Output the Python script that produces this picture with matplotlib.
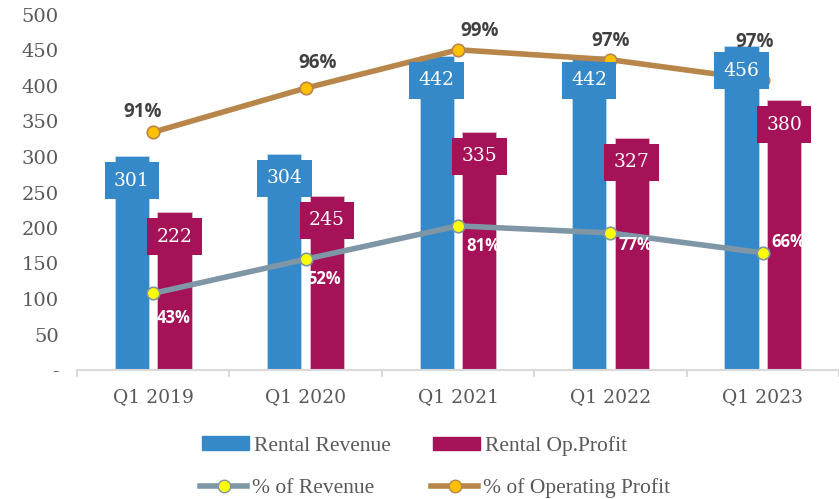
import matplotlib
matplotlib.use("Agg")
import matplotlib.pyplot as plt
from matplotlib.patches import Patch
from matplotlib.lines import Line2D
import numpy as np

categories = ["Q1 2019", "Q1 2020", "Q1 2021", "Q1 2022", "Q1 2023"]
rental_revenue = [301, 304, 442, 442, 456]
rental_op_profit = [222, 245, 335, 327, 380]
# line series as drawn on the chart (left-axis scale) and their labels
pct_revenue_pos = [108, 156, 203, 193, 165]
pct_revenue_lbl = ["43%", "52%", "81%", "77%", "66%"]
pct_opprofit_pos = [335, 397, 451, 437, 408]
pct_opprofit_lbl = ["91%", "96%", "99%", "97%", "97%"]
yticks = [0, 50, 100, 150, 200, 250, 300, 350, 400, 450, 500]
yticklabels = ["-", "50", "100", "150", "200", "250", "300", "350", "400", "450", "500"]

# label placement offsets (pixels, dx right, dy down)
op_lbl_off = [(-11, -20), (12, -25), (22, -19), (0, -19), (-8, -38)]
rev_lbl_off = [(20, 25), (18, 20), (25, 20), (25, 12), (26, -11)]

BLUE = "#3689C9"
RED = "#A61257"
GREY_LINE = "#7F96A6"
GOLD_LINE = "#B8864A"
TXT = "#595959"

W, H = 839, 499
fig = plt.figure(figsize=(W / 100, H / 100), dpi=100)
ax = fig.add_axes([77 / W, (H - 370) / H, (W - 77) / W, (370 - 15) / H])

x = np.arange(len(categories))
bw = 0.225
off = 0.14
ax.bar(x - off, rental_revenue, bw, color=BLUE, edgecolor="#BDD7EE", linewidth=0.6, zorder=2)
ax.bar(x + off, rental_op_profit, bw, color=RED, edgecolor="#E6B8CC", linewidth=0.6, zorder=2)

ax.plot(x, pct_revenue_pos, color=GREY_LINE, lw=4, marker="o", ms=9,
        mfc="#FFFF00", mec=GREY_LINE, mew=1.2, zorder=3)
ax.plot(x, pct_opprofit_pos, color=GOLD_LINE, lw=4, marker="o", ms=9,
        mfc="#FFC000", mec=GOLD_LINE, mew=1.2, zorder=3)

serif = ["DejaVu Serif"]
for xi, v in zip(x - off, rental_revenue):
    ax.annotate(str(v), (xi, v), xytext=(0, -17.5), textcoords="offset points",
                ha="center", va="center", color="white", fontsize=13.5, family=serif,
                bbox=dict(boxstyle="square,pad=0.5", fc=BLUE, ec="none"), zorder=5)
for xi, v in zip(x + off, rental_op_profit):
    ax.annotate(str(v), (xi, v), xytext=(0, -17.5), textcoords="offset points",
                ha="center", va="center", color="white", fontsize=13.5, family=serif,
                bbox=dict(boxstyle="square,pad=0.5", fc=RED, ec="none"), zorder=5)

pt = 0.72
for xi, v, l, (dx, dy) in zip(x, pct_opprofit_pos, pct_opprofit_lbl, op_lbl_off):
    ax.annotate(l, (xi, v), xytext=(dx * pt, -dy * pt), textcoords="offset points",
                ha="center", va="center", color="#404040", fontsize=13.5,
                family="Open Sans", fontweight="bold", zorder=6)
for xi, v, l, (dx, dy) in zip(x, pct_revenue_pos, pct_revenue_lbl, rev_lbl_off):
    ax.annotate(l, (xi, v), xytext=(dx * pt, -dy * pt), textcoords="offset points",
                ha="center", va="center", color="white", fontsize=12,
                family="Open Sans", fontweight="bold", zorder=6)

ax.set_xlim(-0.5, 4.448)
ax.set_ylim(0, 500)
ax.set_yticks(yticks)
ax.set_yticklabels(yticklabels, family=serif, fontsize=14, color=TXT)
ax.tick_params(axis="y", length=0, pad=13)
ax.set_xticks(x)
ax.set_xticklabels(categories, family=serif, fontsize=13.5, color=TXT)
ax.set_xticks(np.arange(-0.5, 4.6, 1.0), minor=True)
ax.tick_params(axis="x", which="major", length=0, pad=13)
ax.tick_params(axis="x", which="minor", length=5, color="#D9D9D9", width=1.5)
for s in ["top", "right", "left"]:
    ax.spines[s].set_visible(False)
ax.spines["bottom"].set_color("#D9D9D9")
ax.spines["bottom"].set_linewidth(1.5)

lfont = dict(family="Liberation Serif", size=15.5)
entries = [
    (Patch(color=BLUE), "Rental Revenue", 202, 446),
    (Patch(color=RED), "Rental Op.Profit", 433, 446),
    (Line2D([], [], color=GREY_LINE, lw=4, marker="o", ms=9, mfc="#FFFF00", mec=GREY_LINE),
     "% of Revenue", 200, 488),
    (Line2D([], [], color=GOLD_LINE, lw=4, marker="o", ms=9, mfc="#FFC000", mec=GOLD_LINE),
     "% of Operating Profit", 431, 488),
]
for h, lab, px, py in entries:
    leg = fig.legend(handles=[h], labels=[lab], loc="center left",
                     bbox_to_anchor=(px / W, 1 - py / H), frameon=False,
                     prop=lfont, handlelength=2.2, handletextpad=0.2,
                     borderpad=0, borderaxespad=0, handleheight=0.6)
    for t in leg.get_texts():
        t.set_color(TXT)

fig.savefig("out.png", dpi=100)
